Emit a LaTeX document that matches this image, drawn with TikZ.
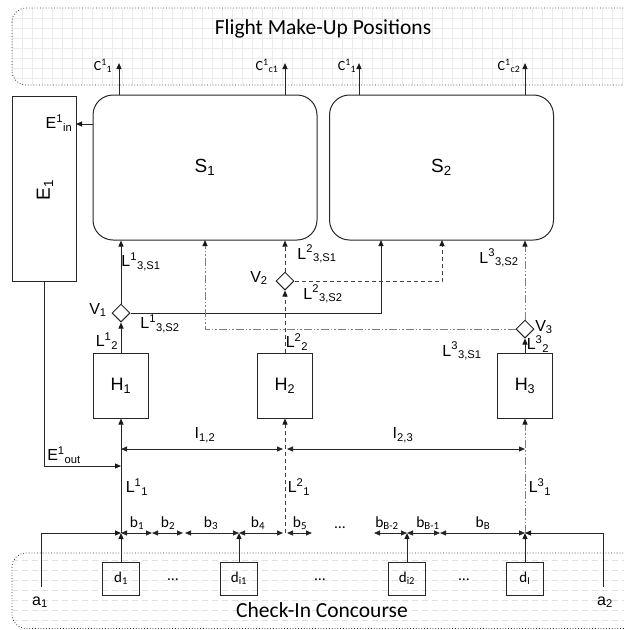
\documentclass[tikz,border=0pt]{standalone}
\usepackage{fontspec}
\setmainfont{Liberation Sans}
\newfontfamily\calf{Carlito}
\usetikzlibrary{arrows.meta,shapes.geometric}
\newcommand{\ssb}[3]{#1\textsuperscript{#2}\textsubscript{#3}}
\begin{document}
\begin{tikzpicture}[x=1pt,y=-1pt,
 ln/.style={draw=black!85, line width=1pt},
 arr/.style={ln, -{Triangle[length=6pt,width=5pt,color=black!90]}},
 dbl/.style={ln, {Triangle[length=6pt,width=5pt]}-{Triangle[length=6pt,width=5pt]}},
 dsh/.style={draw=black!75, dash pattern=on 4pt off 3pt},
 ddt/.style={draw=black!50, dash pattern=on 8pt off 2pt on 1.5pt off 2pt on 1.5pt off 2pt},
 sbox/.style={draw=black!85, line width=1pt, rounded corners=20pt, minimum width=224pt, minimum height=145pt, inner sep=0, font=\fontsize{19}{19}\selectfont},
 hbox/.style={draw=black!85, line width=1pt, minimum width=55pt, minimum height=65pt, inner sep=0, font=\fontsize{18}{18}\selectfont},
 dbox/.style={draw=black!85, line width=1pt, minimum width=37pt, minimum height=33pt, inner sep=0, font=\calf\fontsize{15}{15}\selectfont},
 vdia/.style={diamond, draw=black!85, line width=1pt, minimum width=18pt, minimum height=18pt, inner sep=0},
 lab/.style={inner sep=0, font=\fontsize{16}{16}\selectfont},
 clab/.style={inner sep=0, font=\calf\fontsize{14}{14}\selectfont},
 blab/.style={inner sep=0, font=\calf\fontsize{15.5}{15.5}\selectfont},
 ttl/.style={inner sep=0, font=\calf\fontsize{21.5}{21.5}\selectfont},
 area/.style={draw=black!80, dotted, line width=0.8pt, rounded corners=14pt},
 gridl/.style={draw=black!8, line width=0.8pt},
 hatch/.style={draw=black!12, line width=0.8pt, dash pattern=on 6pt off 4pt},
]
\useasboundingbox (0,0) rectangle (624,630);
\clip (0,0) rectangle (624,630);
% ---------- background areas ----------
\begin{scope}
 \clip[rounded corners=14pt] (12,8) rectangle (660,85);
 \foreach \x in {2,12,...,632} \draw[gridl] (\x,8) -- (\x,85);
 \foreach \y in {18,28,...,78} \draw[gridl] (12,\y) -- (660,\y);
\end{scope}
\draw[area] (12,8) rectangle (660,85);
\begin{scope}
 \clip[rounded corners=14pt] (12,553) rectangle (660,628.5);
 \foreach \y in {560,570,...,620} \draw[hatch] (12,\y) -- (660,\y);
\end{scope}
\draw[area] (12,553) rectangle (660,628.5);
\node[ttl] (top) at (323,29) {Flight Make-Up Positions};
\node[ttl] (bot) at (322,610) {Check-In Concourse};
% ---------- main nodes ----------
\node[sbox] (S1) at (205,167.5) {S\textsubscript{1}};
\node[sbox] (S2) at (441.5,167.5) {S\textsubscript{2}};
\node[draw=black!85, line width=1pt, minimum width=64pt, minimum height=185pt, inner sep=0] (E1) at (44,188.5) {};
\node[rotate=90, inner sep=0, font=\fontsize{19}{19}\selectfont] (E1t) at (45,190) {E\textsubscript{1}};
\node[hbox] (H1) at (121,385.5) {H\textsubscript{1}};
\node[hbox] (H2) at (285,385.5) {H\textsubscript{2}};
\node[hbox] (H3) at (525,385.5) {H\textsubscript{3}};
\node[vdia] (V1) at (121,313) {};
\node[vdia] (V2) at (285,281) {};
\node[vdia] (V3) at (525,329) {};
\node[dbox] (d1) at (121,578.5) {d\textsubscript{1}};
\node[dbox] (di1) at (239,578.5) {d\textsubscript{i1}};
\node[dbox] (di2) at (407,578.5) {d\textsubscript{i2}};
\node[dbox] (dI) at (525,578.5) {d\textsubscript{I}};
% ---------- coordinates ----------
\coordinate (c1) at (119,63);
\coordinate (c2) at (285,63);
\coordinate (c3) at (359,63);
\coordinate (c4) at (525,63);
\coordinate (ein) at (76,124);
\coordinate (eout) at (121,466);
\coordinate (s2a) at (381,240);
\coordinate (s2b) at (442,240);
\coordinate (s1c) at (205,240);
\coordinate (J1) at (121,533);
\coordinate (Ji1) at (239,533);
\coordinate (J2) at (285,533);
\coordinate (Ji2) at (407,533);
\coordinate (J3) at (525,533);
\coordinate (a1) at (41,587);
\coordinate (a2) at (603,587);
\coordinate (I1) at (121,449);
\coordinate (I2a) at (283,449);
\coordinate (I2b) at (287,449);
\coordinate (I3) at (525,449);
\coordinate (bx1) at (152,533);
\coordinate (bx2) at (183,533);
\coordinate (bx3) at (185,533);
\coordinate (bx4) at (283,533);
\coordinate (bx5) at (287,533);
\coordinate (bx6) at (312,533);
\coordinate (bx7) at (374,533);
\coordinate (bx8) at (440,533);
% ---------- connectors ----------
\draw[arr] (c1 |- S1.north) -- (c1);
\draw[arr] (c2 |- S1.north) -- (c2);
\draw[arr] (c3 |- S2.north) -- (c3);
\draw[arr] (c4 |- S2.north) -- (c4);
\draw[arr] (S1.west |- ein) -- (ein);
\draw[arr] (E1.south) |- (eout);
% V1
\draw[arr] (H1.north) -- (V1.south);
\draw[arr] (V1.north) -- (V1 |- S1.south);
\draw[arr] (V1.east) -| (s2a);
% V2
\draw[arr,dsh] (H2.north) -- (V2.south);
\draw[arr,dsh] (V2.north) -- (V2 |- S1.south);
\draw[arr,dsh] (V2.east) -| (s2b);
% V3
\draw[arr] (H3.north) -- (V3.south);
\draw[arr,ddt] (V3.north) -- (V3 |- S2.south);
\draw[arr,ddt] (V3.west) -| (s1c);
% lower
\draw[arr] (J1) -- (H1.south);
\draw[arr,dsh] (J2) -- (H2.south);
\draw[arr,ddt] (J3) -- (H3.south);
\draw[arr] (d1.north) -- (J1);
\draw[arr] (di1.north) -- (Ji1);
\draw[arr] (di2.north) -- (Ji2);
\draw[arr] (dI.north) -- (J3);
\draw[arr] (a1) |- (J1);
\draw[arr] (a2) |- (J3);
\draw[dbl] (I1) -- (I2a);
\draw[dbl] (I2b) -- (I3);
\draw[dbl] (J1) -- (bx1);
\draw[dbl] (bx1) -- (bx2);
\draw[dbl] (bx3) -- (Ji1);
\draw[dbl] (Ji1) -- (bx4);
\draw[dbl] (bx5) -- (bx6);
\draw[dbl] (bx7) -- (Ji2);
\draw[dbl] (Ji2) -- (bx8);
\draw[dbl] (bx8) -- (J3);
% ---------- labels ----------
\node[clab] (lc1) at (103,66) {\ssb{C}{1}{1}};
\node[clab] (lc2) at (267,66) {\ssb{C}{1}{c1}};
\node[clab] (lc3) at (347,66) {\ssb{C}{1}{1}};
\node[clab] (lc4) at (509,66) {\ssb{C}{1}{c2}};
\node[lab] (lein) at (59,123) {\ssb{E}{1}{in}};
\node[lab] (leout) at (64,455) {\ssb{E}{1}{out}};
\node[lab] (lV1) at (98,310) {V\textsubscript{1}};
\node[lab] (lV2) at (259,278) {V\textsubscript{2}};
\node[lab] (lV3) at (544,327) {V\textsubscript{3}};
\node[lab] (l13s1) at (141,262) {\ssb{L}{1}{3,S1}};
\node[lab] (l13s2) at (160,324) {\ssb{L}{1}{3,S2}};
\node[lab] (l12) at (107,341) {\ssb{L}{1}{2}};
\node[lab] (l23s1) at (317,254) {\ssb{L}{2}{3,S1}};
\node[lab] (l23s2) at (323,294) {\ssb{L}{2}{3,S2}};
\node[lab] (l22) at (297,342) {\ssb{L}{2}{2}};
\node[lab] (l33s2) at (499,258) {\ssb{L}{3}{3,S2}};
\node[lab] (l33s1) at (462,351) {\ssb{L}{3}{3,S1}};
\node[lab] (l32) at (538,344) {\ssb{L}{3}{2}};
\node[lab] (l11) at (137,487) {\ssb{L}{1}{1}};
\node[lab] (l21) at (299,487) {\ssb{L}{2}{1}};
\node[lab] (l31) at (540,487) {\ssb{L}{3}{1}};
\node[lab] (lI12) at (205,435) {I\textsubscript{1,2}};
\node[lab] (lI23) at (403,435) {I\textsubscript{2,3}};
\node[lab] (la1) at (40,602) {a\textsubscript{1}};
\node[lab] (la2) at (605,602) {a\textsubscript{2}};
\node[blab] (lb1) at (137,523) {b\textsubscript{1}};
\node[blab] (lb2) at (168,523) {b\textsubscript{2}};
\node[blab] (lb3) at (211,523) {b\textsubscript{3}};
\node[blab] (lb4) at (258,523) {b\textsubscript{4}};
\node[blab] (lb5) at (300,523) {b\textsubscript{5}};
\node[blab] (ldots0) at (340,528) {\dots};
\node[blab] (lbB2) at (387,523) {b\textsubscript{B-2}};
\node[blab] (lbB1) at (428,523) {b\textsubscript{B-1}};
\node[blab] (lbB) at (483,523) {b\textsubscript{B}};
\node[blab] (ldots1) at (173,580) {\dots};
\node[blab] (ldots2) at (320,580) {\dots};
\node[blab] (ldots3) at (464,580) {\dots};
\end{tikzpicture}
\end{document}
